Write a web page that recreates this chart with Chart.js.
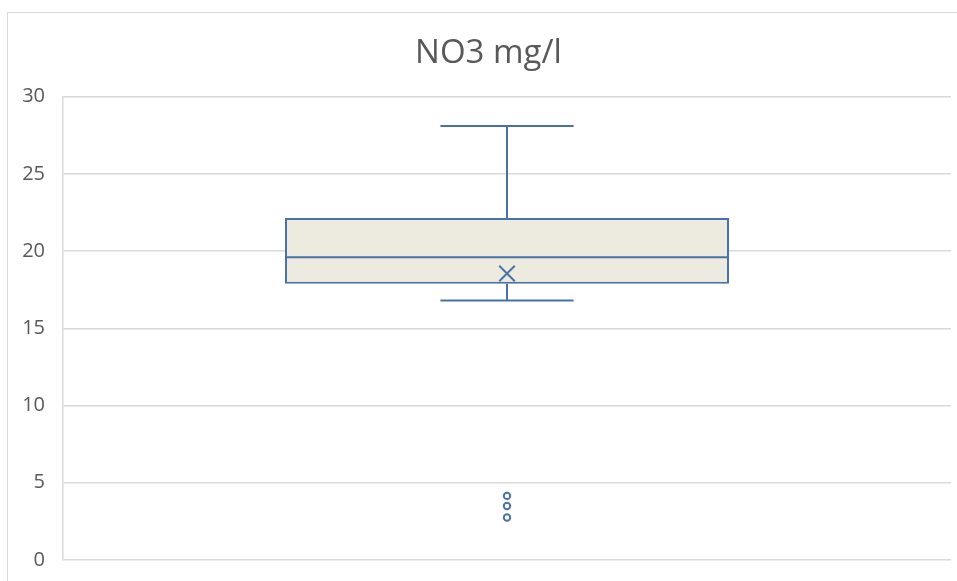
<!DOCTYPE html>
<html>
<head>
<meta charset="utf-8">
<script src="https://cdn.jsdelivr.net/npm/chart.js@4.4.1/dist/chart.umd.min.js"></script>
<style>
  html, body { margin: 0; padding: 0; background: #fff; overflow: hidden; width: 957px; height: 581px; }
  #frame { position: absolute; left: 7px; top: 12px; width: 1000px; height: 700px; border: 1px solid #d9d9d9; box-sizing: border-box; }
  #wrap { position: absolute; left: 0; top: 0; width: 977px; height: 590px; }
</style>
</head>
<body>
<div id="frame"></div>
<div id="wrap"><canvas id="c" width="977" height="590"></canvas></div>
<script>
// Box-and-whisker summary for nitrate concentration
const categories  = ['NO3 mg/l'];
const q1          = [17.88];
const q3          = [22.14];
const median      = [19.6];
const whiskerLow  = [16.8];
const whiskerHigh = [28.1];
const mean        = [18.55];
const outliers    = [4.15, 3.5, 2.75];
const yTicks      = [0, 5, 10, 15, 20, 25, 30];

const BLUE = '#4a72a7';
const TEXT = '#595959';
const GRID = '#d9d9d9';

// Draws median line and whiskers on top of the box bars
const boxWhiskers = {
  id: 'boxWhiskers',
  afterDatasetsDraw(chart) {
    const ctx = chart.ctx;
    const y = chart.scales.y;
    const meta = chart.getDatasetMeta(0);
    ctx.save();
    ctx.strokeStyle = BLUE;
    ctx.lineWidth = 2;
    meta.data.forEach((el, i) => {
      const cx = el.x;
      const half = el.width / 2;
      const cap = el.width * 0.15;
      const yMed = y.getPixelForValue(median[i]);
      const yQ1 = y.getPixelForValue(q1[i]);
      const yQ3 = y.getPixelForValue(q3[i]);
      const yLo = y.getPixelForValue(whiskerLow[i]);
      const yHi = y.getPixelForValue(whiskerHigh[i]);
      ctx.beginPath();
      // median
      ctx.moveTo(cx - half, yMed); ctx.lineTo(cx + half, yMed);
      // upper whisker
      ctx.moveTo(cx, yQ3); ctx.lineTo(cx, yHi);
      ctx.moveTo(cx - cap, yHi); ctx.lineTo(cx + cap, yHi);
      // lower whisker
      ctx.moveTo(cx, yQ1); ctx.lineTo(cx, yLo);
      ctx.moveTo(cx - cap, yLo); ctx.lineTo(cx + cap, yLo);
      ctx.stroke();
    });
    ctx.restore();
  }
};

new Chart(document.getElementById('c'), {
  data: {
    labels: categories,
    datasets: [
      {
        type: 'bar',
        data: q1.map((v, i) => [v, q3[i]]),
        backgroundColor: '#edeae0',
        borderColor: BLUE,
        borderWidth: 2,
        borderSkipped: false,
        barPercentage: 0.5,
        categoryPercentage: 1,
        order: 3
      },
      {
        type: 'line',
        data: mean,
        showLine: false,
        pointStyle: 'crossRot',
        pointRadius: 11,
        pointBorderColor: BLUE,
        pointBorderWidth: 2,
        order: 1
      },
      {
        type: 'line',
        data: outliers.map(v => ({ x: categories[0], y: v })),
        showLine: false,
        pointStyle: 'circle',
        pointRadius: 3.2,
        pointBackgroundColor: '#ffffff',
        pointBorderColor: BLUE,
        pointBorderWidth: 2,
        order: 2
      }
    ]
  },
  options: {
    responsive: false,
    devicePixelRatio: 1,
    animation: false,
    layout: { padding: { left: 0, right: 0, top: 0, bottom: 13 } },
    plugins: {
      legend: { display: false },
      tooltip: { enabled: false },
      title: {
        display: true,
        text: 'NO3 mg/l',
        color: TEXT,
        font: { family: 'Open Sans', size: 33, weight: 'normal' },
        padding: { top: 34, bottom: 23 }
      }
    },
    scales: {
      x: { type: 'category', display: false, offset: true },
      y: {
        min: yTicks[0],
        max: yTicks[yTicks.length - 1],
        afterBuildTicks: s => { s.ticks = yTicks.map(v => ({ value: v })); },
        afterFit: s => { s.width = 63; },
        ticks: { color: TEXT, font: { family: 'Open Sans', size: 20 }, padding: 18 },
        grid: { color: GRID, lineWidth: 1.5, drawTicks: false },
        border: { display: true, color: GRID, width: 1.5 }
      },
      // empty right-hand margin strip
      yRight: {
        position: 'right',
        afterFit: s => { s.width = 26; },
        ticks: { display: false },
        grid: { display: false, drawTicks: false },
        border: { display: false }
      }
    }
  },
  plugins: [boxWhiskers]
});
</script>
</body>
</html>
